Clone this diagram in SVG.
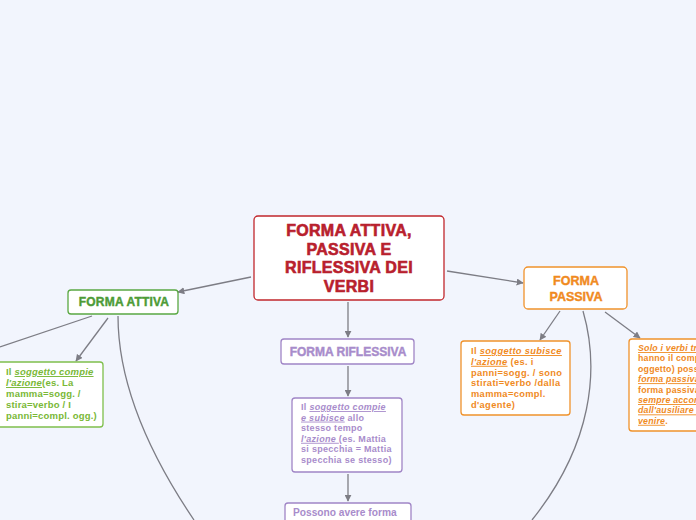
<svg xmlns="http://www.w3.org/2000/svg" width="696" height="520" viewBox="0 0 696 520">
<defs>
<marker id="arr" viewBox="0 0 10 10" refX="9" refY="5" markerWidth="7" markerHeight="7" orient="auto" markerUnits="userSpaceOnUse">
<path d="M0,0 L10,5 L0,10 z" fill="#7d7d85"/>
</marker>
<style>
.bg{fill:#f2f5fd}
.c{fill:none;stroke:#7d7d85;stroke-width:1.3}
.box{fill:#ffffff;stroke-width:1.3}
.t{font-family:"Liberation Sans",Arial,sans-serif;font-weight:700}
.s{font-family:"Liberation Sans",Arial,sans-serif;font-weight:700}
.u{font-style:italic;text-decoration:underline}
</style>
</defs>
<rect class="bg" x="0" y="0" width="696" height="520"/>
<g id="connectors">
<path class="c" d="M251,277 L178,292" marker-end="url(#arr)"/>
<path class="c" d="M348,302 L348,337" marker-end="url(#arr)"/>
<path class="c" d="M447,271 L523,283" marker-end="url(#arr)"/>
<path class="c" d="M92,316 L0,347"/>
<path class="c" d="M108,318 L76,361" marker-end="url(#arr)"/>
<path class="c" d="M118,316 C118,385 150,455 194,520"/>
<path class="c" d="M348,366 L348,396" marker-end="url(#arr)"/>
<path class="c" d="M348,474 L348,501" marker-end="url(#arr)"/>
<path class="c" d="M560,311 L540,340" marker-end="url(#arr)"/>
<path class="c" d="M583,311 C600,370 592,445 532,520"/>
<path class="c" d="M605,312 L640,338" marker-end="url(#arr)"/>
</g>
<g id="central">
<rect class="box" x="254" y="216" width="190" height="84" rx="4" stroke="#c1272d"/>
<g class="t" font-size="16" fill="#b8202d" stroke="#b8202d" stroke-width="0.6" text-anchor="middle" letter-spacing="0.3">
<text x="349" y="236">FORMA ATTIVA,</text>
<text x="349" y="254.5">PASSIVA E</text>
<text x="349" y="273">RIFLESSIVA DEI</text>
<text x="349" y="291.5">VERBI</text>
</g>
</g>
<g id="attiva">
<rect class="box" x="68" y="290" width="110" height="24" rx="3" stroke="#5aa843"/>
<text class="t" x="124" y="306" font-size="12" fill="#4d9b36" stroke="#4d9b36" stroke-width="0.4" text-anchor="middle" letter-spacing="0.2">FORMA ATTIVA</text>
</g>
<g id="attiva-desc">
<rect class="box" x="-5" y="362" width="108" height="65" rx="3" stroke="#7fbf4c"/>
<g class="s" fill="#79b836" font-size="9.5" letter-spacing="0.2">
<text x="6" y="375">Il <tspan class="u">soggetto compie</tspan></text>
<text x="6" y="386"><tspan class="u">l'azione</tspan>(es. La</text>
<text x="6" y="397">mamma=sogg. /</text>
<text x="6" y="408">stira=verbo / I</text>
<text x="6" y="419">panni=compl. ogg.)</text>
</g>
</g>
<g id="riflessiva">
<rect class="box" x="281" y="339" width="133" height="25" rx="3" stroke="#a085c6"/>
<text class="t" x="348" y="355.5" font-size="12" fill="#a88ccb" stroke="#a88ccb" stroke-width="0.4" text-anchor="middle">FORMA RIFLESSIVA</text>
</g>
<g id="riflessiva-desc">
<rect class="box" x="292" y="398" width="110" height="74" rx="3" stroke="#a085c6"/>
<g class="s" fill="#a88ccb" font-size="9" letter-spacing="0.3">
<text x="301" y="410">Il <tspan class="u">soggetto compie</tspan></text>
<text x="301" y="420.6"><tspan class="u">e subisce</tspan> allo</text>
<text x="301" y="431.2">stesso tempo</text>
<text x="301" y="441.8"><tspan class="u">l'azione </tspan>(es. Mattia</text>
<text x="301" y="452.4">si specchia = Mattia</text>
<text x="301" y="463">specchia se stesso)</text>
</g>
</g>
<g id="riflessiva-forma">
<rect class="box" x="285" y="503" width="126" height="30" rx="3" stroke="#a085c6"/>
<text class="s" x="293" y="516" font-size="10.2" fill="#a88ccb">Possono avere forma</text>
</g>
<g id="passiva">
<rect class="box" x="524" y="267" width="103" height="42" rx="4" stroke="#f0922b"/>
<g class="t" font-size="12.5" fill="#f08a1e" stroke="#f08a1e" stroke-width="0.4" text-anchor="middle">
<text x="576" y="285">FORMA</text>
<text x="576" y="300.5">PASSIVA</text>
</g>
</g>
<g id="passiva-desc">
<rect class="box" x="461" y="341" width="109" height="74" rx="3" stroke="#f0922b"/>
<g class="s" fill="#f08a1e" font-size="9.3" letter-spacing="0.35">
<text x="471" y="354">Il <tspan class="u">soggetto subisce</tspan></text>
<text x="471" y="364.8"><tspan class="u">l'azione</tspan> (es. i</text>
<text x="471" y="375.6">panni=sogg. / sono</text>
<text x="471" y="386.4">stirati=verbo /dalla</text>
<text x="471" y="397.2">mamma=compl.</text>
<text x="471" y="408">d'agente)</text>
</g>
</g>
<g id="passiva-transitivi">
<rect class="box" x="629" y="339" width="120" height="92" rx="3" stroke="#f0922b"/>
<g class="s" fill="#f08a1e" font-size="8.8" letter-spacing="0.2">
<text x="638" y="351"><tspan class="u">Solo i verbi transitivi</tspan></text>
<text x="638" y="361.4">hanno il complemento</text>
<text x="638" y="371.8">oggetto) possono avere</text>
<text x="638" y="382.2"><tspan class="u">forma passiva</tspan></text>
<text x="638" y="392.6">forma passiva è</text>
<text x="638" y="403"><tspan class="u">sempre accompagnata</tspan></text>
<text x="638" y="413.4"><tspan class="u">dall'ausiliare essere</tspan></text>
<text x="638" y="423.8"><tspan class="u">venire</tspan>.</text>
</g>
</g>
</svg>
